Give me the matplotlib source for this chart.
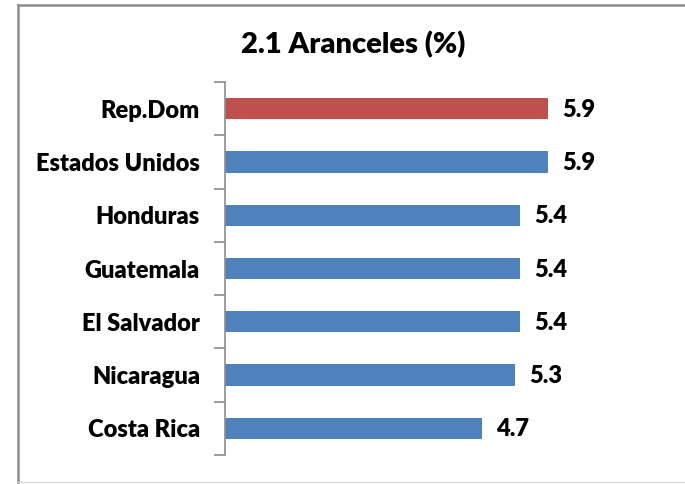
import matplotlib.pyplot as plt
from matplotlib.lines import Line2D

# data, top to bottom as shown
countries = ["Rep.Dom", "Estados Unidos", "Honduras", "Guatemala",
             "El Salvador", "Nicaragua", "Costa Rica"]
aranceles = [5.9, 5.9, 5.4, 5.4, 5.4, 5.3, 4.7]
bar_colors = ["#C0504D", "#4F81BD", "#4F81BD", "#4F81BD",
              "#4F81BD", "#4F81BD", "#4F81BD"]
title = "2.1 Aranceles (%)"

plt.rcParams["font.family"] = ["Lato", "DejaVu Sans"]
WEIGHT = "heavy"

W, H = 685, 484
fig = plt.figure(figsize=(W / 100, H / 100), dpi=100)
ax = fig.add_axes([225 / W, 1 - 455 / H, (608 - 225) / W, (455 - 82) / H])

n = len(countries)
ypos = list(range(n))[::-1]
ax.barh(ypos, aranceles, height=0.4, color=bar_colors, zorder=2)
for y, v in zip(ypos, aranceles):
    ax.text(v + 0.26, y - 0.02, f"{v:.1f}", va="center", ha="left",
            fontsize=17, fontweight=WEIGHT, color="black")

ax.set_xlim(0, 7)
ax.set_ylim(-0.5, n - 0.5)
ax.set_xticks([])
ax.set_yticks(ypos)
ax.set_yticklabels(countries, fontsize=17, fontweight=WEIGHT, color="black")
ax.set_yticks([i - 0.5 for i in range(n + 1)], minor=True)
ax.tick_params(axis="y", which="major", length=0, pad=18)
ax.tick_params(axis="y", which="minor", length=8, width=1.2, color="#8c8c8c")
for s in ["top", "right", "bottom"]:
    ax.spines[s].set_visible(False)
ax.spines["left"].set_color("#8c8c8c")
ax.spines["left"].set_linewidth(1.2)

fig.text(353 / W, 1 - 45 / H, title, ha="center", va="center",
         fontsize=21, fontweight=WEIGHT, color="black")

# outer chart frame (left + top in gray, faint bottom)
fig.add_artist(Line2D([17.5 / W, 17.5 / W], [1 - 5 / H, 0], color="#8c8c8c", lw=1.8))
fig.add_artist(Line2D([17.5 / W, 1], [1 - 5 / H, 1 - 5 / H], color="#8c8c8c", lw=1.8))
fig.add_artist(Line2D([17.5 / W, 1], [1 - 482 / H, 1 - 482 / H], color="#d9d9d9", lw=1))

fig.savefig("out.png", dpi=100)
